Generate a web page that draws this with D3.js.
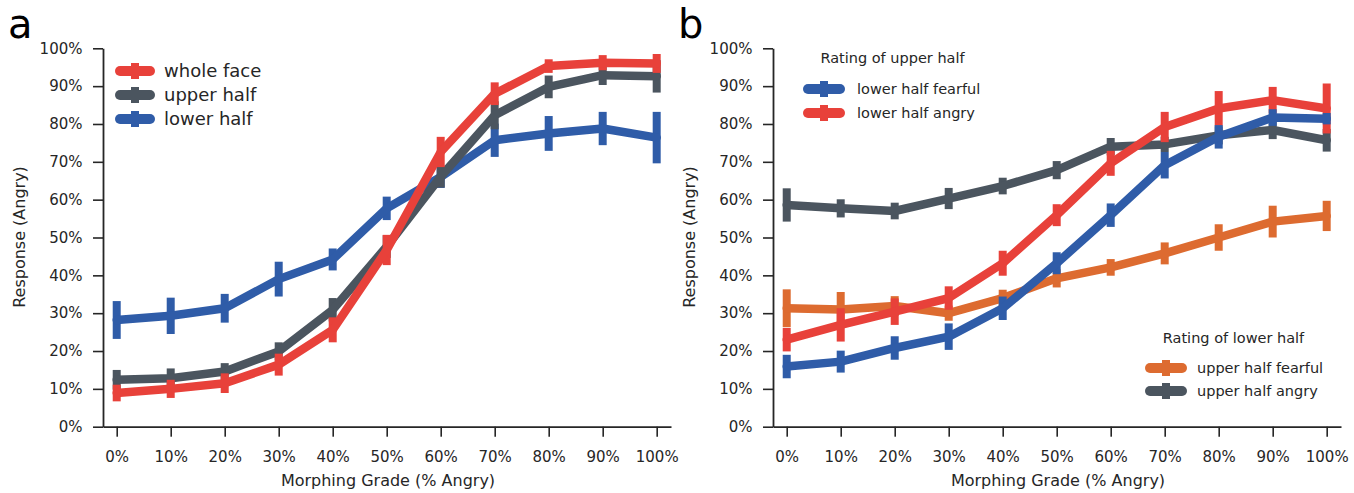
<!DOCTYPE html>
<html>
<head>
<meta charset="utf-8">
<script src="https://cdn.jsdelivr.net/npm/d3@7"></script>
<style>
  body { margin: 0; background: #fff; }
  svg { display: block; font-family: "DejaVu Sans", sans-serif; }
</style>
</head>
<body>
<div id="chart"></div>
<script>
// Morphing grades on the x axis (% angry)
const grades = [0, 10, 20, 30, 40, 50, 60, 70, 80, 90, 100];
const xTickLabels = ["0%", "10%", "20%", "30%", "40%", "50%", "60%", "70%", "80%", "90%", "100%"];
const yTicks = [0, 10, 20, 30, 40, 50, 60, 70, 80, 90, 100];
const yTickLabels = ["0%", "10%", "20%", "30%", "40%", "50%", "60%", "70%", "80%", "90%", "100%"];

// Panel a: response (% angry) and error bar half-lengths
const wholeFace    = [8.9, 10.0, 11.5, 16.4, 25.6, 46.7, 72.6, 88.0, 95.3, 96.2, 96.0];
const wholeFaceErr = [2.2, 2.4, 2.6, 2.9, 3.3, 4.0, 4.0, 3.0, 1.8, 2.0, 2.5];
const upperHalf    = [12.4, 12.8, 14.6, 19.9, 30.9, 47.6, 66.1, 82.3, 89.8, 92.9, 92.6];
const upperHalfErr = [2.6, 2.6, 2.2, 2.4, 3.1, 3.0, 2.9, 3.7, 3.0, 2.6, 4.3];
const lowerHalf    = [28.2, 29.3, 31.3, 39.0, 44.2, 57.7, 66.0, 75.7, 77.5, 78.8, 76.4];
const lowerHalfErr = [5.0, 4.8, 3.8, 4.6, 2.9, 3.1, 2.9, 4.4, 4.6, 4.4, 6.8];

// Panel b: rating of upper half
const lowerFearful    = [15.9, 17.2, 20.8, 23.8, 31.3, 43.2, 55.9, 69.1, 76.6, 81.7, 81.4];
const lowerFearfulErr = [3.1, 2.9, 3.1, 3.5, 3.1, 2.9, 3.1, 3.5, 3.1, 2.2, 1.5];
const lowerAngry      = [23.0, 26.9, 30.4, 34.0, 43.2, 55.9, 69.6, 79.2, 84.1, 86.3, 84.1];
const lowerAngryErr   = [3.1, 4.4, 3.5, 3.1, 3.3, 2.9, 3.3, 4.0, 4.6, 3.5, 6.6];
// Panel b: rating of lower half
const upperFearful    = [31.3, 31.0, 31.9, 30.0, 34.0, 39.2, 42.1, 45.8, 50.0, 54.2, 55.7];
const upperFearfulErr = [5.0, 4.6, 2.6, 2.0, 2.2, 2.4, 2.2, 2.9, 3.5, 4.2, 4.0];
const upperAngry      = [58.6, 57.7, 57.0, 60.3, 63.6, 67.8, 74.0, 74.6, 77.0, 78.4, 75.7];
const upperAngryErr   = [4.4, 2.4, 2.2, 2.8, 2.2, 2.4, 2.3, 2.0, 2.4, 2.4, 3.0];

const RED = "#e8413a", GRAY = "#4b555f", BLUE = "#2f5ca8", ORANGE = "#dd6b30";
const TEXT = "#262626";

const width = 1354, height = 493;
const svg = d3.select("#chart").append("svg")
  .attr("width", width)
  .attr("height", height);

const y = d3.scaleLinear().domain([0, 100]).range([426.7, 48.3]);

function drawPanel(offset, letter, series, legends) {
  const g = svg.append("g").attr("transform", `translate(${offset},0)`);

  const x = d3.scaleLinear().domain([-2.54, 102.65]).range([103, 671]);

  // y axis
  const yAxis = g.append("g")
    .attr("transform", "translate(103,0)")
    .call(d3.axisLeft(y).tickValues(yTicks).tickFormat((d, i) => yTickLabels[i])
      .tickSize(10).tickSizeOuter(0).tickPadding(10.5));
  // x axis
  const xAxis = g.append("g")
    .attr("transform", `translate(0,${y(0)})`)
    .call(d3.axisBottom(x).tickValues(grades).tickFormat((d, i) => xTickLabels[i])
      .tickSize(10).tickSizeOuter(0).tickPadding(14.3));

  [yAxis, xAxis].forEach(ax => {
    ax.select(".domain").attr("stroke", TEXT).attr("stroke-width", 1.8);
    ax.selectAll(".tick line").attr("stroke", TEXT).attr("stroke-width", 1.6);
    ax.selectAll(".tick text").attr("fill", TEXT).style("font-size", "15px")
      .style("font-family", "DejaVu Sans");
  });

  // axis titles
  g.append("text")
    .attr("x", 388).attr("y", 486)
    .attr("text-anchor", "middle")
    .attr("fill", TEXT).style("font-size", "16px")
    .text("Morphing Grade (% Angry)");
  g.append("text")
    .attr("transform", `translate(25,237) rotate(-90)`)
    .attr("text-anchor", "middle")
    .attr("fill", TEXT).style("font-size", "16px")
    .text("Response (Angry)");

  // panel letter
  g.append("text")
    .attr("x", 8).attr("y", 38)
    .attr("fill", "#000").style("font-size", "40px")
    .text(letter);

  const line = d3.line().x((d, i) => x(grades[i])).y(d => y(d));

  series.forEach(s => {
    const sg = g.append("g");
    sg.selectAll("line.err")
      .data(s.values)
      .enter().append("line")
      .attr("class", "err")
      .attr("x1", (d, i) => x(grades[i]))
      .attr("x2", (d, i) => x(grades[i]))
      .attr("y1", (d, i) => y(d - s.err[i]))
      .attr("y2", (d, i) => y(d + s.err[i]))
      .attr("stroke", s.color)
      .attr("stroke-width", 8);
    sg.append("path")
      .datum(s.values)
      .attr("d", line)
      .attr("fill", "none")
      .attr("stroke", s.color)
      .attr("stroke-width", 8.5)
      .attr("stroke-linejoin", "round")
      .attr("stroke-linecap", "round");
  });

  legends.forEach(lg => {
    const lgG = g.append("g");
    if (lg.title) {
      lgG.append("text")
        .attr("x", lg.titleX).attr("y", lg.titleY)
        .attr("dy", "0.35em")
        .attr("text-anchor", "middle")
        .attr("fill", TEXT).style("font-size", lg.fontSize + "px")
        .text(lg.title);
    }
    lg.items.forEach((it, i) => {
      const cy = lg.y0 + i * lg.step;
      lgG.append("line")
        .attr("x1", lg.x0).attr("x2", lg.x0 + lg.len)
        .attr("y1", cy).attr("y2", cy)
        .attr("stroke", it.color).attr("stroke-width", 10)
        .attr("stroke-linecap", "round");
      lgG.append("line")
        .attr("x1", lg.x0 + lg.len / 2).attr("x2", lg.x0 + lg.len / 2)
        .attr("y1", cy - 8).attr("y2", cy + 8)
        .attr("stroke", it.color).attr("stroke-width", 8);
      lgG.append("text")
        .attr("x", lg.textX).attr("y", cy)
        .attr("dy", "0.35em")
        .attr("fill", TEXT).style("font-size", lg.fontSize + "px")
        .text(it.label);
    });
  });
}

drawPanel(0, "a",
  [
    { values: lowerHalf, err: lowerHalfErr, color: BLUE },
    { values: upperHalf, err: upperHalfErr, color: GRAY },
    { values: wholeFace, err: wholeFaceErr, color: RED }
  ],
  [
    { x0: 120, len: 30, textX: 164, y0: 71, step: 24, fontSize: 18,
      items: [
        { label: "whole face", color: RED },
        { label: "upper half", color: GRAY },
        { label: "lower half", color: BLUE }
      ] }
  ]);

drawPanel(670, "b",
  [
    { values: upperFearful, err: upperFearfulErr, color: ORANGE },
    { values: upperAngry, err: upperAngryErr, color: GRAY },
    { values: lowerAngry, err: lowerAngryErr, color: RED },
    { values: lowerFearful, err: lowerFearfulErr, color: BLUE }
  ],
  [
    { title: "Rating of upper half", titleX: 222.5, titleY: 58,
      x0: 138, len: 32, textX: 187, y0: 89, step: 24, fontSize: 14.5,
      items: [
        { label: "lower half fearful", color: BLUE },
        { label: "lower half angry", color: RED }
      ] },
    { title: "Rating of lower half", titleX: 563.5, titleY: 338,
      x0: 480, len: 32, textX: 527, y0: 368, step: 23, fontSize: 14.5,
      items: [
        { label: "upper half fearful", color: ORANGE },
        { label: "upper half angry", color: GRAY }
      ] }
  ]);
</script>
</body>
</html>
